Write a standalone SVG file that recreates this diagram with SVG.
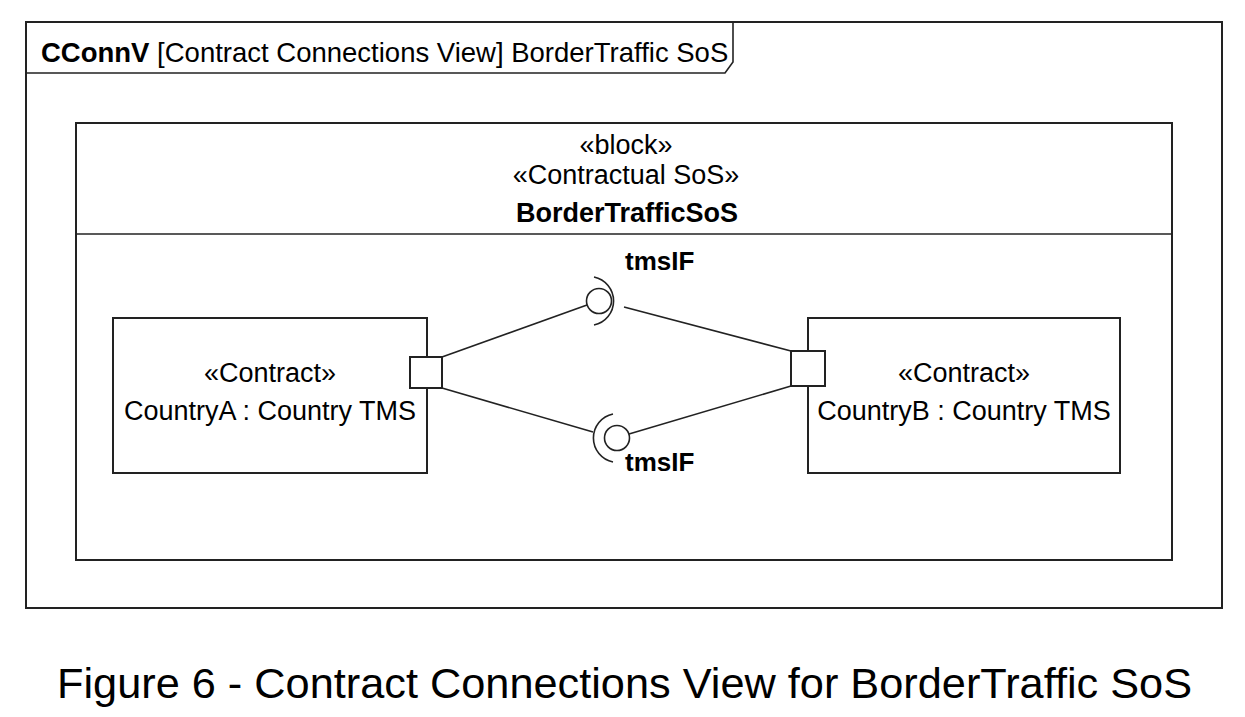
<svg xmlns="http://www.w3.org/2000/svg" width="1245" height="717" viewBox="0 0 1245 717">
<style>
text{font-family:"Liberation Sans",Arial,sans-serif;fill:#000}
.box{fill:#fff;stroke:#222;stroke-width:2}
.ln{fill:none;stroke:#222;stroke-width:1.6}
.t27{font-size:27px}
.b{font-weight:bold}
.mid{text-anchor:middle}
.lbl{font-size:26px;font-weight:bold}
</style>
<rect width="1245" height="717" fill="#fff"/>
<g id="frame">
<rect class="box" x="26" y="22" width="1196" height="586"/>
<path class="ln" d="M26,73 H725 L733,62 V22" stroke-width="2"/>
<text x="41" y="62" class="t27" style="font-size:27.5px"><tspan class="b">CConnV</tspan> [Contract Connections View] BorderTraffic SoS</text>
</g>
<g id="BorderTrafficSoS">
<rect class="box" x="76" y="123" width="1096" height="437"/>
<line class="ln" x1="76" y1="234" x2="1172" y2="234" stroke-width="2"/>
<text x="626" y="154" class="t27 mid">«block»</text>
<text x="626" y="184" class="t27 mid">«Contractual SoS»</text>
<text x="627" y="222" class="t27 mid b">BorderTrafficSoS</text>
</g>
<g id="CountryA">
<rect class="box" x="113" y="318" width="314" height="155"/>
<text x="270" y="382" class="t27 mid">«Contract»</text>
<text x="270" y="420" class="t27 mid">CountryA : Country TMS</text>
<rect id="portA" class="box" x="410" y="357" width="32" height="31"/>
</g>
<g id="CountryB">
<rect class="box" x="808" y="318" width="312" height="155"/>
<text x="964" y="382" class="t27 mid">«Contract»</text>
<text x="964" y="420" class="t27 mid">CountryB : Country TMS</text>
<rect id="portB" class="box" x="791" y="351" width="34" height="35"/>
</g>
<g id="connectors">
<line class="ln" x1="442" y1="357" x2="587" y2="305"/>
<circle class="ln" cx="599" cy="301" r="12.5"/>
<path class="ln" d="M594,277 A24.5,24.5 0 0 1 594,325" stroke="#444"/>
<line class="ln" x1="624" y1="307" x2="791" y2="351"/>
<text x="625" y="270" class="lbl">tmsIF</text>
<line class="ln" x1="442" y1="388" x2="593" y2="432"/>
<circle class="ln" cx="617" cy="438" r="12.5"/>
<path class="ln" d="M613,414 A24.5,24.5 0 0 0 613,462" stroke="#444"/>
<line class="ln" x1="629" y1="434" x2="791" y2="386"/>
<text x="625" y="471" class="lbl">tmsIF</text>
</g>
<text x="57" y="698" style="font-size:43.3px">Figure 6 - Contract Connections View for BorderTraffic SoS</text>
</svg>
